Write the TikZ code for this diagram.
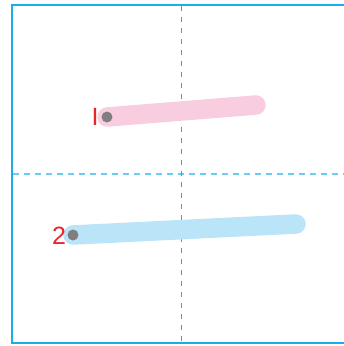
\documentclass[tikz,border=0pt]{standalone}
\usepackage{fontspec}
\setmainfont{Liberation Sans}
\definecolor{frameblue}{HTML}{1AAEE8}
\definecolor{guideblue}{HTML}{6CCBF2}
\definecolor{pinkstroke}{HTML}{F9CDE0}
\definecolor{bluestroke}{HTML}{BAE4F8}
\definecolor{dotgrey}{HTML}{7F7F7F}
\definecolor{labelred}{HTML}{E8242C}
\tikzset{
  stroke/.style={line width=19.5pt, line cap=round},
  dot/.style={circle, fill=dotgrey, inner sep=0pt, minimum size=11pt},
  lbl/.style={text=labelred, font=\fontsize{25}{25}\selectfont, inner sep=0pt},
}
\begin{document}
\begin{tikzpicture}[x=1pt,y=-1pt]
\useasboundingbox (0,0) rectangle (344,346);
\begin{scope}
\clip (0,0) rectangle (344,346);
\draw[guideblue, line width=1.3pt, dash pattern=on 6pt off 5pt] (13,174) -- (344,174);
\draw[frameblue, line width=0.8pt, dash pattern=on 5pt off 6pt] (181,6) -- (181,342);
\draw[frameblue, line width=2.4pt] (12,5) rectangle (360,343);
\end{scope}
\coordinate (p1) at (107,117);
\coordinate (p2) at (256,105);
\coordinate (b1) at (73,235);
\coordinate (b2) at (296,224);
\draw[stroke, pinkstroke] (p1) -- (p2);
\draw[stroke, bluestroke] (b1) -- (b2);
\node[dot] (d1) at (p1) {};
\node[dot] (d2) at (b1) {};
\node[lbl] (l1) at (95,117) {I};
\node[lbl] (l2) at (59,236) {2};
\end{tikzpicture}
\end{document}
